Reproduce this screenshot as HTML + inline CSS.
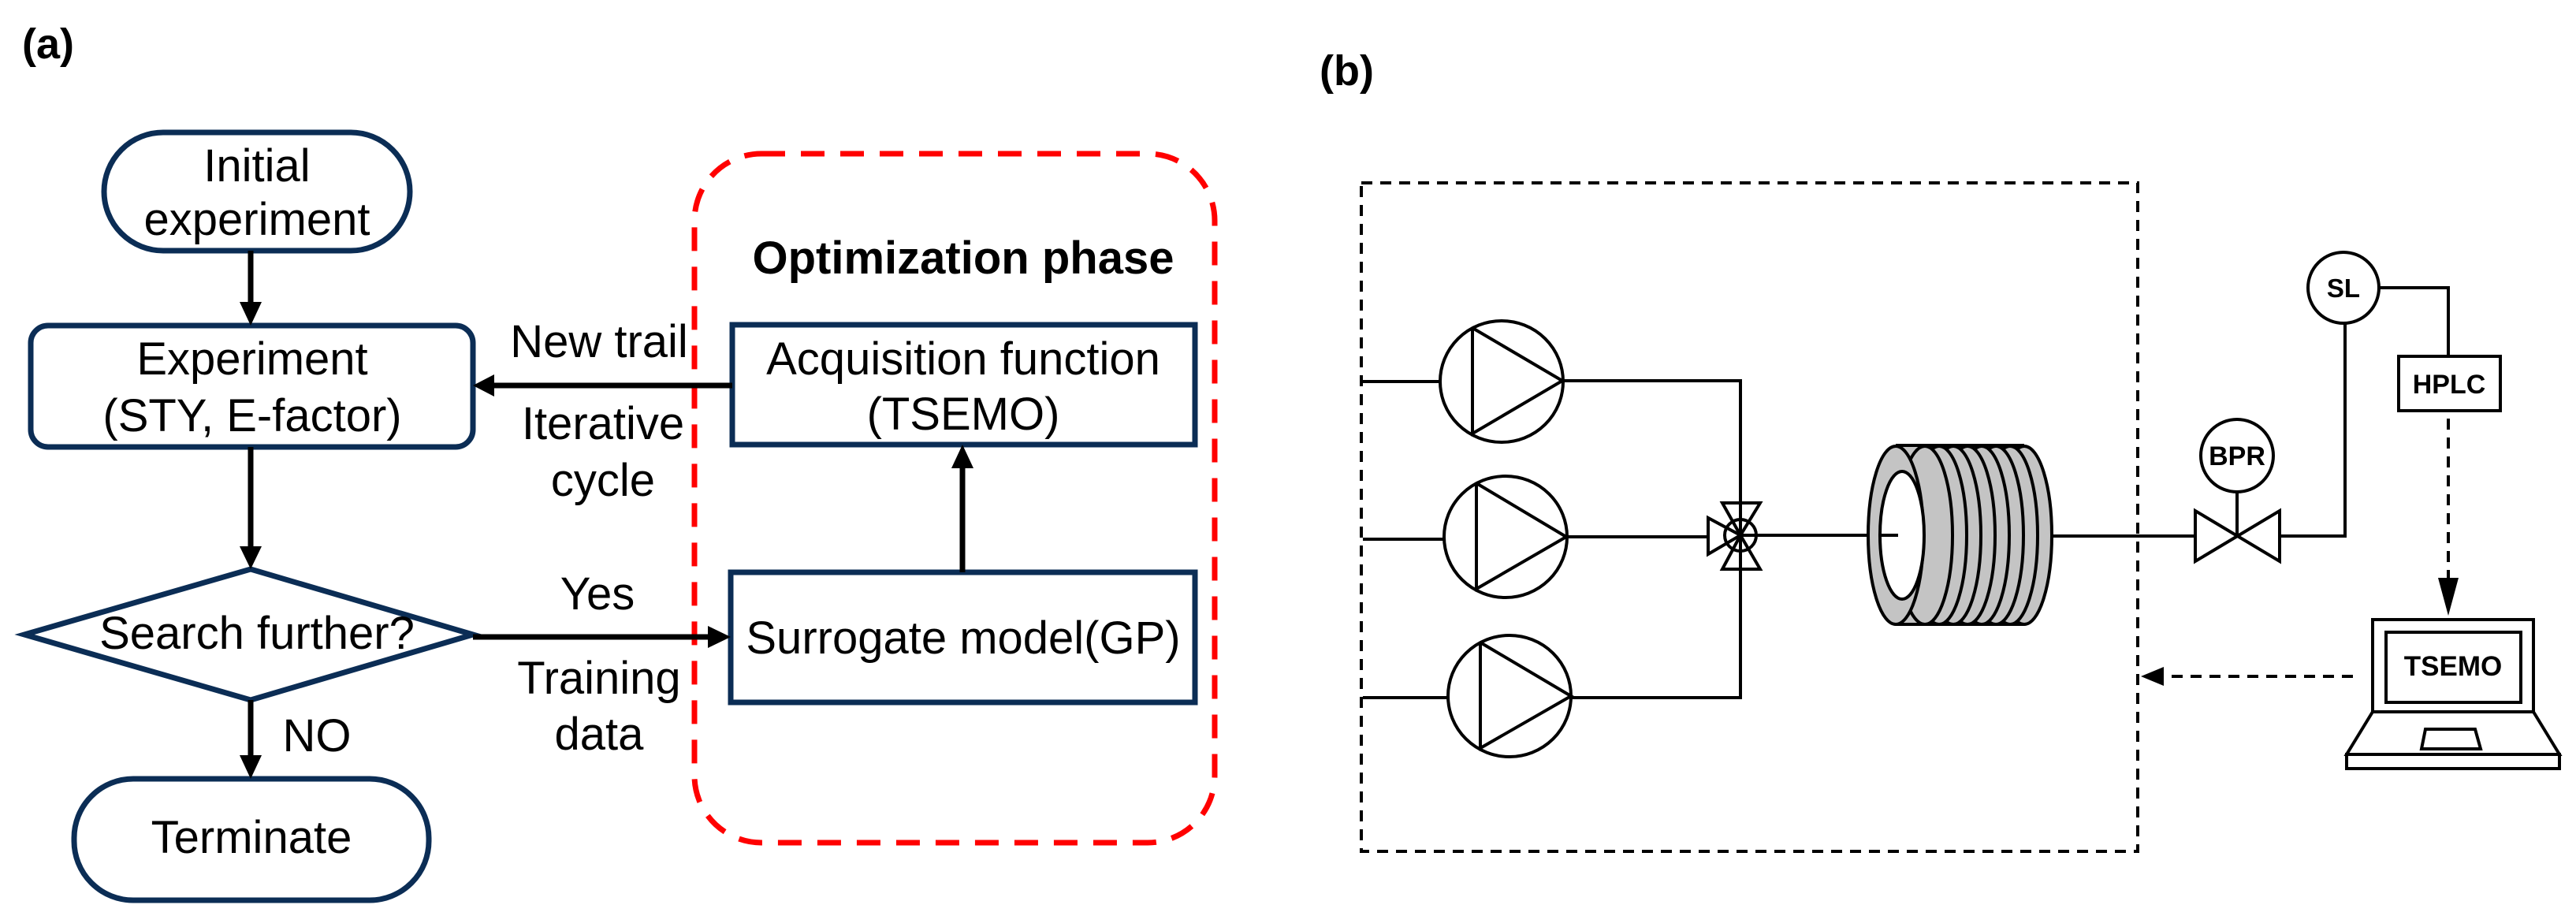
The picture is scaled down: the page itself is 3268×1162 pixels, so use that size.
<!DOCTYPE html>
<html><head><meta charset="utf-8"><style>
html,body{margin:0;padding:0;background:#fff;}
svg{display:block;}
text{font-family:"Liberation Sans",Arial,sans-serif;}
</style></head><body>
<svg width="3268" height="1162" viewBox="0 0 3268 1162" xmlns="http://www.w3.org/2000/svg">
<defs>
<marker id="ah" markerWidth="10" markerHeight="10" refX="9" refY="5" orient="auto" markerUnits="userSpaceOnUse" viewBox="0 0 10 10">
</marker>
</defs>
<rect width="3268" height="1162" fill="#fff"/>

<!-- (a) -->
<text x="28" y="74" font-size="54" font-weight="bold">(a)</text>

<!-- Red dashed region -->
<rect x="881" y="195" width="660" height="874" rx="85" ry="85" fill="none" stroke="#ff0000" stroke-width="7" stroke-dasharray="30 20"/>
<text x="1222" y="347" font-size="58" font-weight="bold" text-anchor="middle">Optimization phase</text>

<g fill="#fff" stroke="#0b2d55" stroke-width="7">
<rect x="132" y="168" width="388" height="150" rx="75" ry="75"/>
<rect x="39" y="413" width="561" height="154" rx="22" ry="22"/>
<polygon points="31,805 318,722 600,805 318,888"/>
<rect x="94" y="988" width="450" height="154" rx="75" ry="75"/>
<rect x="929" y="412" width="587" height="152"/>
<rect x="927" y="726" width="589" height="165"/>
</g>

<g font-size="58" text-anchor="middle">
<text x="326" y="230">Initial</text>
<text x="326" y="298">experiment</text>
<text x="320" y="475">Experiment</text>
<text x="320" y="547">(STY, E-factor)</text>
<text x="326" y="823">Search further?</text>
<text x="319" y="1082">Terminate</text>
<text x="1222" y="475">Acquisition function</text>
<text x="1222" y="545">(TSEMO)</text>
<text x="1222" y="829">Surrogate model(GP)</text>
<text x="760" y="453">New trail</text>
<text x="765" y="557">Iterative</text>
<text x="765" y="629">cycle</text>
<text x="758" y="773">Yes</text>
<text x="760" y="880">Training</text>
<text x="760" y="951">data</text>
<text x="402" y="953">NO</text>
</g>

<!-- arrows -->
<g stroke="#000" stroke-width="7" fill="none">
<line x1="318" y1="318" x2="318" y2="385"/>
<line x1="318" y1="567" x2="318" y2="695"/>
<line x1="318" y1="888" x2="318" y2="960"/>
<line x1="929" y1="489" x2="625" y2="489"/>
<line x1="600" y1="808" x2="900" y2="808"/>
<line x1="1221" y1="726" x2="1221" y2="592"/>
</g>
<g fill="#000">
<polygon points="304,383 332,383 318,413"/>
<polygon points="304,693 332,693 318,722"/>
<polygon points="304,958 332,958 318,988"/>
<polygon points="627,475 627,503 600,489"/>
<polygon points="898,794 898,822 927,808"/>
<polygon points="1207,594 1235,594 1221,564"/>
</g>

<!-- (b) -->
<text x="1674" y="108" font-size="54" font-weight="bold">(b)</text>

<rect x="1727" y="232" width="985" height="848" fill="none" stroke="#000" stroke-width="4" stroke-dasharray="14 10"/>

<g stroke="#000" stroke-width="4" fill="none">
<!-- pumps -->
<ellipse cx="1905" cy="484" rx="78" ry="77"/>
<polyline points="1868,416 1868,550 1982,483 1868,416"/>
<ellipse cx="1910" cy="681" rx="78" ry="77"/>
<polyline points="1873,613 1873,747 1987,681 1873,613"/>
<ellipse cx="1915" cy="883" rx="78" ry="77"/>
<polyline points="1878,815 1878,949 1993,883 1878,815"/>
<!-- lines -->
<line x1="1729" y1="484" x2="1827" y2="484"/>
<line x1="1729" y1="684" x2="1832" y2="684"/>
<line x1="1729" y1="885" x2="1837" y2="885"/>
<polyline points="1982,483 2208,483 2208,885 1993,885"/>
<line x1="1987" y1="681" x2="2167" y2="681"/>
<!-- valve -->
<polygon points="2185,638 2233,638 2208,679"/>
<polygon points="2185,722 2233,722 2208,679"/>
<polygon points="2167,657 2167,703 2208,679"/>
<circle cx="2208" cy="679" r="20"/>
<line x1="2208" y1="679" x2="2408" y2="679"/>
</g>

<!-- coil -->
<g stroke="#000" stroke-width="4">
<rect x="2405" y="565" width="163" height="227" fill="#c4c4c4" stroke="none"/>
<line x1="2405" y1="565" x2="2568" y2="565"/>
<line x1="2405" y1="792" x2="2568" y2="792"/>
<ellipse cx="2568" cy="679" rx="35" ry="113" fill="#c4c4c4"/>
<ellipse cx="2550" cy="679" rx="35" ry="113" fill="#c4c4c4"/>
<ellipse cx="2532" cy="679" rx="35" ry="113" fill="#c4c4c4"/>
<ellipse cx="2514" cy="679" rx="35" ry="113" fill="#c4c4c4"/>
<ellipse cx="2496" cy="679" rx="35" ry="113" fill="#c4c4c4"/>
<ellipse cx="2478" cy="679" rx="35" ry="113" fill="#c4c4c4"/>
<ellipse cx="2460" cy="679" rx="35" ry="113" fill="#c4c4c4"/>
<ellipse cx="2442" cy="679" rx="35" ry="113" fill="#c4c4c4"/>
<ellipse cx="2405" cy="679" rx="35" ry="113" fill="#c4c4c4"/>
<ellipse cx="2413" cy="679" rx="28" ry="81" fill="#fff"/>
<line x1="2383" y1="679" x2="2408" y2="679"/>
</g>

<g stroke="#000" stroke-width="4" fill="none">
<line x1="2603" y1="680" x2="2785" y2="680"/>
<polygon points="2785,648 2785,712 2892,648 2892,712"/>
<line x1="2838" y1="680" x2="2838" y2="624"/>
<ellipse cx="2838" cy="578" rx="46" ry="46" fill="#fff"/>
<polyline points="2892,680 2975,680 2975,410"/>
<ellipse cx="2973" cy="365" rx="45" ry="45" fill="#fff"/>
<polyline points="3018,365 3106,365 3106,452"/>
<rect x="3043" y="452" width="129" height="69" fill="#fff"/>
<line x1="3106" y1="531" x2="3106" y2="738" stroke-dasharray="14 10"/>
<line x1="2985" y1="858" x2="2745" y2="858" stroke-dasharray="14 10"/>
<!-- laptop -->
<rect x="3010" y="786" width="204" height="117" fill="#fff"/>
<rect x="3027" y="802" width="171" height="89"/>
<polygon points="3010,903 3214,903 3247,957 2977,957"/>
<rect x="2977" y="957" width="270" height="18"/>
<polygon points="3077,925 3140,925 3147,950 3072,950"/>
</g>
<g fill="#000">
<polygon points="3093,733 3119,733 3106,781"/>
<polygon points="2745,846 2745,870 2716,858"/>
</g>
<g font-weight="bold" text-anchor="middle">
<text x="2838" y="590" font-size="34">BPR</text>
<text x="2973" y="377" font-size="33">SL</text>
<text x="3107" y="499" font-size="34">HPLC</text>
<text x="3112" y="857" font-size="35">TSEMO</text>
</g>
</svg>
</body></html>
